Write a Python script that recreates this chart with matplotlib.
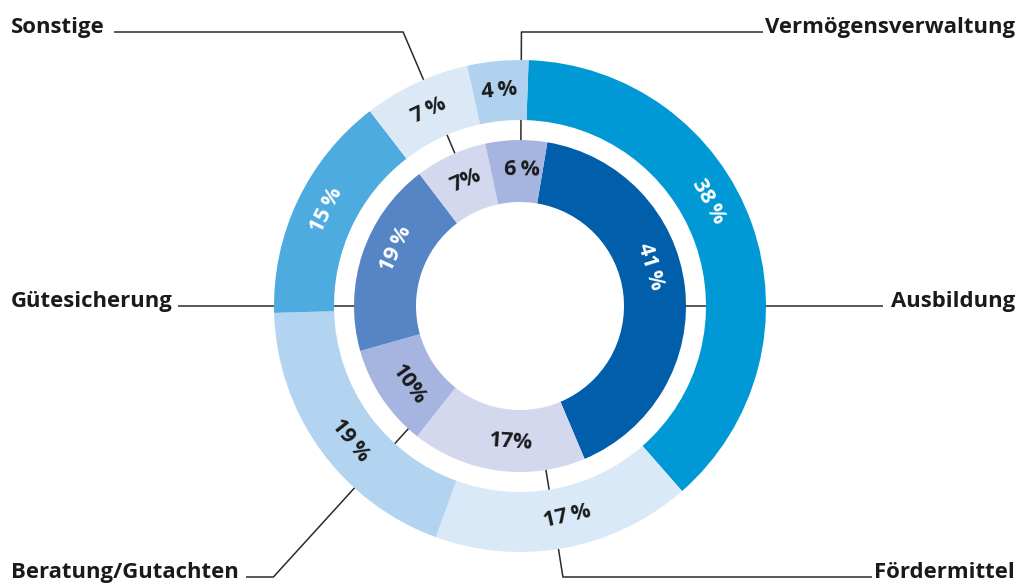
import matplotlib.pyplot as plt
import numpy as np

# data
categories = ["Ausbildung", "Fördermittel", "Beratung/Gutachten",
              "Gütesicherung", "Sonstige", "Vermögensverwaltung"]
outer_values = [38, 17, 19, 15, 7, 4]
outer_labels = ["38\u2009%", "17\u2009%", "19\u2009%", "15\u2009%", "7\u2009%", "4\u2009%"]
inner_values = [41, 17, 10, 19, 7, 6]
inner_labels = ["41\u2009%", "17%", "10%", "19\u2009%", "7%", "6\u2009%"]

outer_colors = ["#0099d6", "#d9e9f8", "#b2d4f0", "#4dabe0", "#dbe9f7", "#b0d2ef"]
inner_colors = ["#005eaa", "#d3d8ef", "#a5b5df", "#5585c5", "#d3d8ef", "#a5b5df"]
outer_text = ["white", "#1a1a1a", "#1a1a1a", "white", "#1a1a1a", "#1a1a1a"]
inner_text = ["white", "#1a1a1a", "#1a1a1a", "white", "#1a1a1a", "#1a1a1a"]

# where the percentage labels sit (clock angle in degrees)
outer_label_pos = [61, 167.3, 231.6, 296.3, 334.9, 354.4]
inner_label_pos = [73.2, 183.8, 234.8, 294.8, 336.6, 1.0]

plt.rcParams['font.family'] = ['Open Sans', 'DejaVu Sans']

W, H = 1021, 583
cx, cy = 520, 583 - 306
fig = plt.figure(figsize=(W / 100, H / 100), dpi=100)
ax = fig.add_axes([0, 0, 1, 1])

outer_start = 88.0   # degrees, counterclockwise from x-axis
inner_start = 80.5

ax.pie(outer_values, colors=outer_colors, radius=246, center=(cx, cy),
       startangle=outer_start, counterclock=False,
       wedgeprops=dict(width=60, edgecolor='none', zorder=2))
ax.pie(inner_values, colors=inner_colors, radius=166, center=(cx, cy),
       startangle=inner_start, counterclock=False,
       wedgeprops=dict(width=62, edgecolor='none', zorder=2))


def ring_labels(labels, colors, angles, r):
    for lab, c, clock in zip(labels, colors, angles):
        a = np.deg2rad(clock)
        x, y = cx + r * np.sin(a), cy + r * np.cos(a)
        rot = -clock
        rot = (rot + 180) % 360 - 180
        if rot > 90:
            rot -= 180
        if rot < -90:
            rot += 180
        ax.text(x, y, lab, rotation=rot, rotation_mode='anchor',
                ha='center', va='center', color=c, fontsize=15.5,
                fontweight='bold', zorder=5)


ring_labels(outer_labels, outer_text, outer_label_pos, 216)
ring_labels(inner_labels, inner_text, inner_label_pos, 136)

# leader lines: clock angle, line y (pixel), line end x, text x, alignment
leaders = [
    (90.0, 306, 883, 1015, 'right'),
    (171.0, 577, 872, 1015, 'right'),
    (222.3, 577, 246, 11, 'left'),
    (270.0, 306, 178, 11, 'left'),
    (336.9, 32, 114, 11, 'left'),
    (0.3, 32, 763, 1015, 'right'),
]

for name, (theta, ypix, xend, xtext, ha) in zip(categories, leaders):
    t = np.deg2rad(theta)
    yl = H - ypix
    r0 = 140
    x0, y0 = cx + r0 * np.sin(t), cy + r0 * np.cos(t)
    if abs(np.cos(t)) < 1e-6:
        xs, ys = [x0, xend], [y0, yl]
    else:
        s = (yl - cy) / np.cos(t)
        xs, ys = [x0, cx + s * np.sin(t), xend], [y0, yl, yl]
    ax.plot(xs, ys, color="#2b2b2b", lw=1.1, zorder=1, solid_capstyle='butt')
    ax.text(xtext, yl - 1, name, ha=ha, va='baseline', fontsize=15.9,
            fontweight='bold', color="#1a1a1a")

ax.set_xlim(0, W)
ax.set_ylim(0, H)
ax.set_aspect('equal')
ax.axis('off')

plt.savefig("out.png", dpi=100)
